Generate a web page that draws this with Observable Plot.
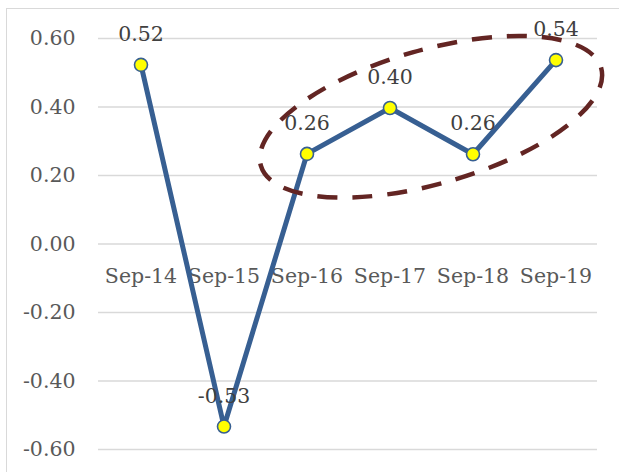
<!DOCTYPE html>
<html>
<head>
<meta charset="utf-8">
<script src="https://cdn.jsdelivr.net/npm/d3@7"></script>
<script src="https://cdn.jsdelivr.net/npm/@observablehq/plot@0.6"></script>
<style>
  html, body { margin: 0; padding: 0; background: #ffffff; }
  #wrap { position: relative; width: 619px; height: 472px; overflow: hidden; }
  #frame { position: absolute; left: 6px; top: 8px; width: 700px; height: 600px;
           border: 1.5px solid #d9d9d9; box-sizing: border-box; }
  #chart { position: absolute; left: 0; top: 0; }
</style>
</head>
<body>
<div id="wrap"><div id="frame"></div><div id="chart"></div></div>
<script>
const categories = ["Sep-14", "Sep-15", "Sep-16", "Sep-17", "Sep-18", "Sep-19"];
const values = [0.523, -0.533, 0.263, 0.397, 0.262, 0.537];
const yTicks = [0.6, 0.4, 0.2, 0, -0.2, -0.4, -0.6];

const data = categories.map((c, i) => ({cat: c, value: values[i]}));
const fmt = d => (Math.round(d * 100) / 100).toFixed(2);

const lineColor = "#375f92";
const textFont = "DejaVu Serif";
const fs = 20.5;

// highlight ellipse around Sep-16 .. Sep-19, centred between Sep-17 and Sep-18
const ellipseMark = (index, scales) => {
  const x = scales.x, y = scales.y;
  const bw = x.bandwidth ? x.bandwidth() : 0;
  const cx = (x("Sep-17") + x("Sep-18")) / 2 + bw / 2;
  const cy = y(0.37);
  const g = d3.create("svg:g");
  g.append("ellipse")
    .attr("cx", cx).attr("cy", cy)
    .attr("rx", 177).attr("ry", 67)
    .attr("transform", `rotate(-16 ${cx} ${cy})`)
    .attr("fill", "none")
    .attr("stroke", "#632523")
    .attr("stroke-width", 4.5)
    .attr("stroke-dasharray", "20 15");
  return g.node();
};

const plot = Plot.plot({
  width: 619,
  height: 472,
  marginLeft: 98,
  marginRight: 22,
  marginTop: 38,
  marginBottom: 23,
  style: {background: "transparent", fontFamily: textFont},
  x: {type: "band", domain: categories, padding: 0, axis: null},
  y: {domain: [-0.6, 0.6], axis: null},
  marks: [
    Plot.ruleY(yTicks, {stroke: "#d9d9d9", strokeWidth: 1.5}),
    Plot.axisY({ticks: yTicks, tickFormat: fmt, tickSize: 0, tickPadding: 23,
      fontSize: fs, fill: "#595959", fontFamily: textFont, label: null}),
    Plot.text(categories, {x: d => d, y: () => 0, dy: 39, lineAnchor: "bottom",
      fontSize: fs, fill: "#595959", fontFamily: textFont}),
    Plot.line(data, {x: "cat", y: "value", stroke: lineColor, strokeWidth: 5,
      strokeLinejoin: "miter", strokeLinecap: "butt"}),
    ellipseMark,
    Plot.dot(data, {x: "cat", y: "value", r: 6.5, fill: "#ffff00",
      stroke: lineColor, strokeWidth: 1.6}),
    Plot.text(data, {x: "cat", y: "value", text: d => fmt(d.value), dy: -24,
      lineAnchor: "bottom", fontSize: fs, fill: "#404040", fontFamily: textFont})
  ]
});
document.getElementById("chart").appendChild(plot);
</script>
</body>
</html>
